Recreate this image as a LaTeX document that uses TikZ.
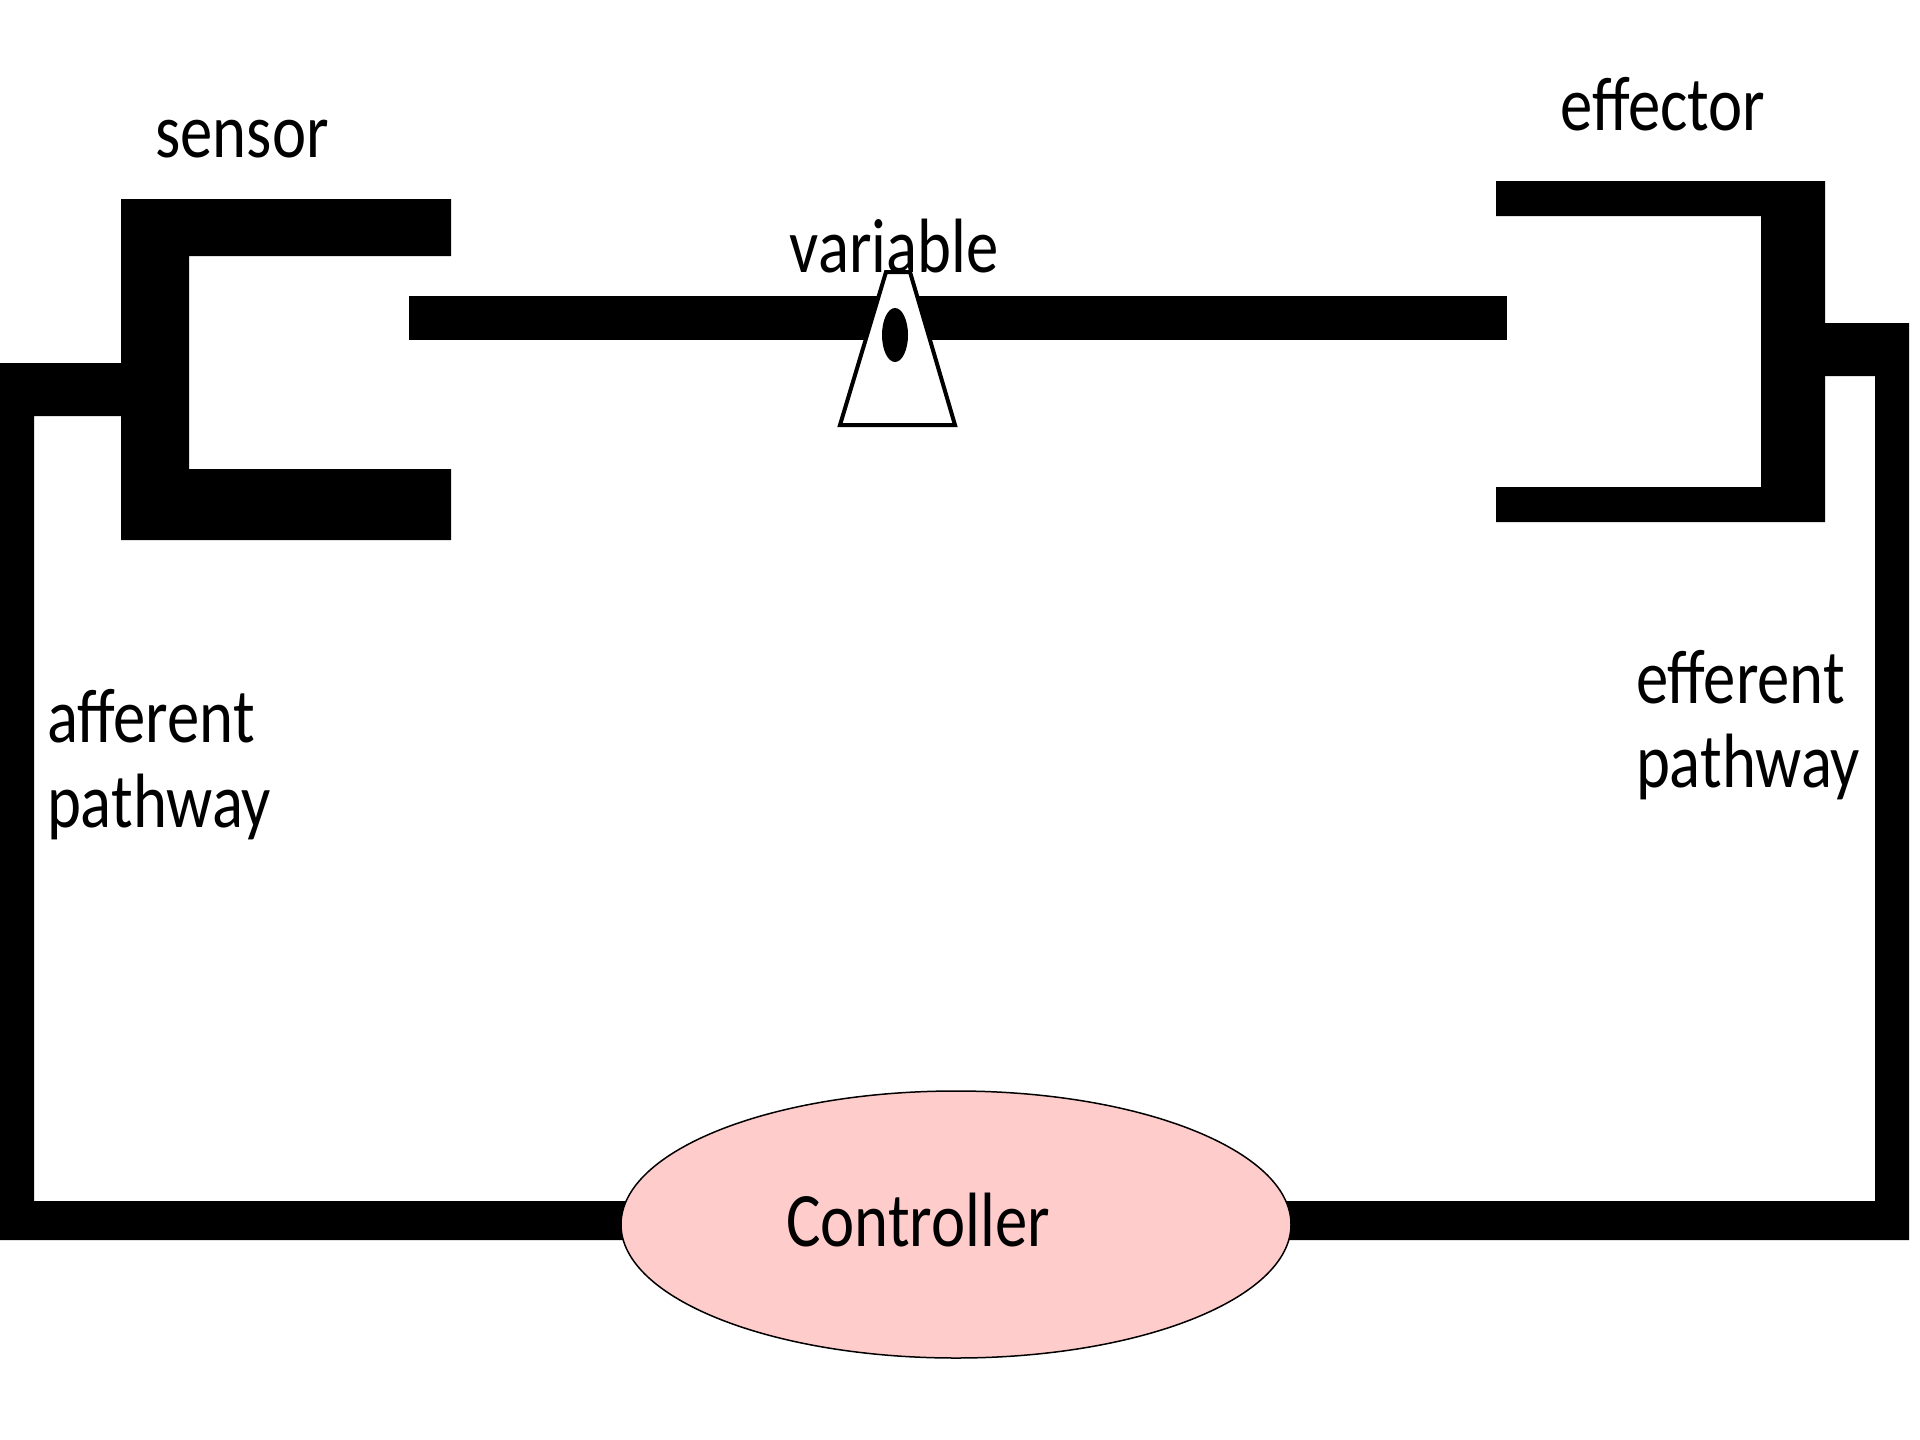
\documentclass[tikz,border=0pt]{standalone}
\usepackage{fontspec}
\setmainfont{Carlito}
\usetikzlibrary{shapes.geometric}
\definecolor{ctrlpink}{RGB}{255,204,204}
\begin{document}
\begin{tikzpicture}[x=1pt,y=-1pt,
  lbl/.style={inner sep=0pt, outer sep=0pt, font=\fontsize{77}{85}\selectfont,
    xscale=0.84, transform shape},
  bar/.style={fill=black, draw=none},
  ctrlshape/.style={ellipse, draw=black, line width=1.5pt, fill=ctrlpink,
    minimum width=670, minimum height=267, inner sep=0pt}]
\useasboundingbox (0,0) rectangle (1920,1440);

% sensor bracket
\fill[bar] (451,199) -- (121,199) -- (121,540) -- (451,540) -- (451,469)
  -- (189,469) -- (189,256) -- (451,256) -- cycle;
% effector bracket
\fill[bar] (1496,181) -- (1825,181) -- (1825,522) -- (1496,522) -- (1496,487)
  -- (1761,487) -- (1761,216) -- (1496,216) -- cycle;
% controlled variable bar
\fill[bar] (409,296) rectangle (1507,340);

% controller position and wire junctions
\coordinate (ctrlpos) at (956,1224.5);
\coordinate (sensorjoin) at (121,389.5);
\coordinate (effectorjoin) at (1825,349.5);

% afferent pathway: sensor -> controller
\fill[bar] (sensorjoin |- 0,363) -- (0,363) -- (0,1240) -- (ctrlpos |- 0,1240)
  -- (ctrlpos |- 0,1201) -- (34,1201) -- (34,416) -- (sensorjoin |- 0,416) -- cycle;
% efferent pathway: controller -> effector
\fill[bar] (effectorjoin |- 0,323) -- (1909,323) -- (1909,1240) -- (ctrlpos |- 0,1240)
  -- (ctrlpos |- 0,1201) -- (1875,1201) -- (1875,376) -- (effectorjoin |- 0,376) -- cycle;

% controller, drawn over the wire ends
\node[ctrlshape] (ctrl) at (ctrlpos) {};

% variable indicator
\filldraw[fill=white, draw=black, line width=4pt, line join=miter]
  (886,272) -- (910,272) -- (955,425) -- (840,425) -- cycle;
\fill[black] (895,335) ellipse [x radius=13, y radius=27];

% labels
\node[lbl, anchor=base] (sensorlbl) at (242,157) {sensor};
\node[lbl, anchor=base] (effectorlbl) at (1663,130) {effector};
\node[lbl, anchor=base] (variablelbl) at (894,272) {variable};
\node[lbl, anchor=base west] (afflbl1) at (47,742) {afferent};
\node[lbl, anchor=base west] (afflbl2) at (47,827) {pathway};
\node[lbl, anchor=base west] (efflbl1) at (1636,703) {efferent};
\node[lbl, anchor=base west] (efflbl2) at (1636,787) {pathway};
\node[lbl, anchor=base] (ctrllbl) at (918,1246) {Controller};
\end{tikzpicture}
\end{document}
